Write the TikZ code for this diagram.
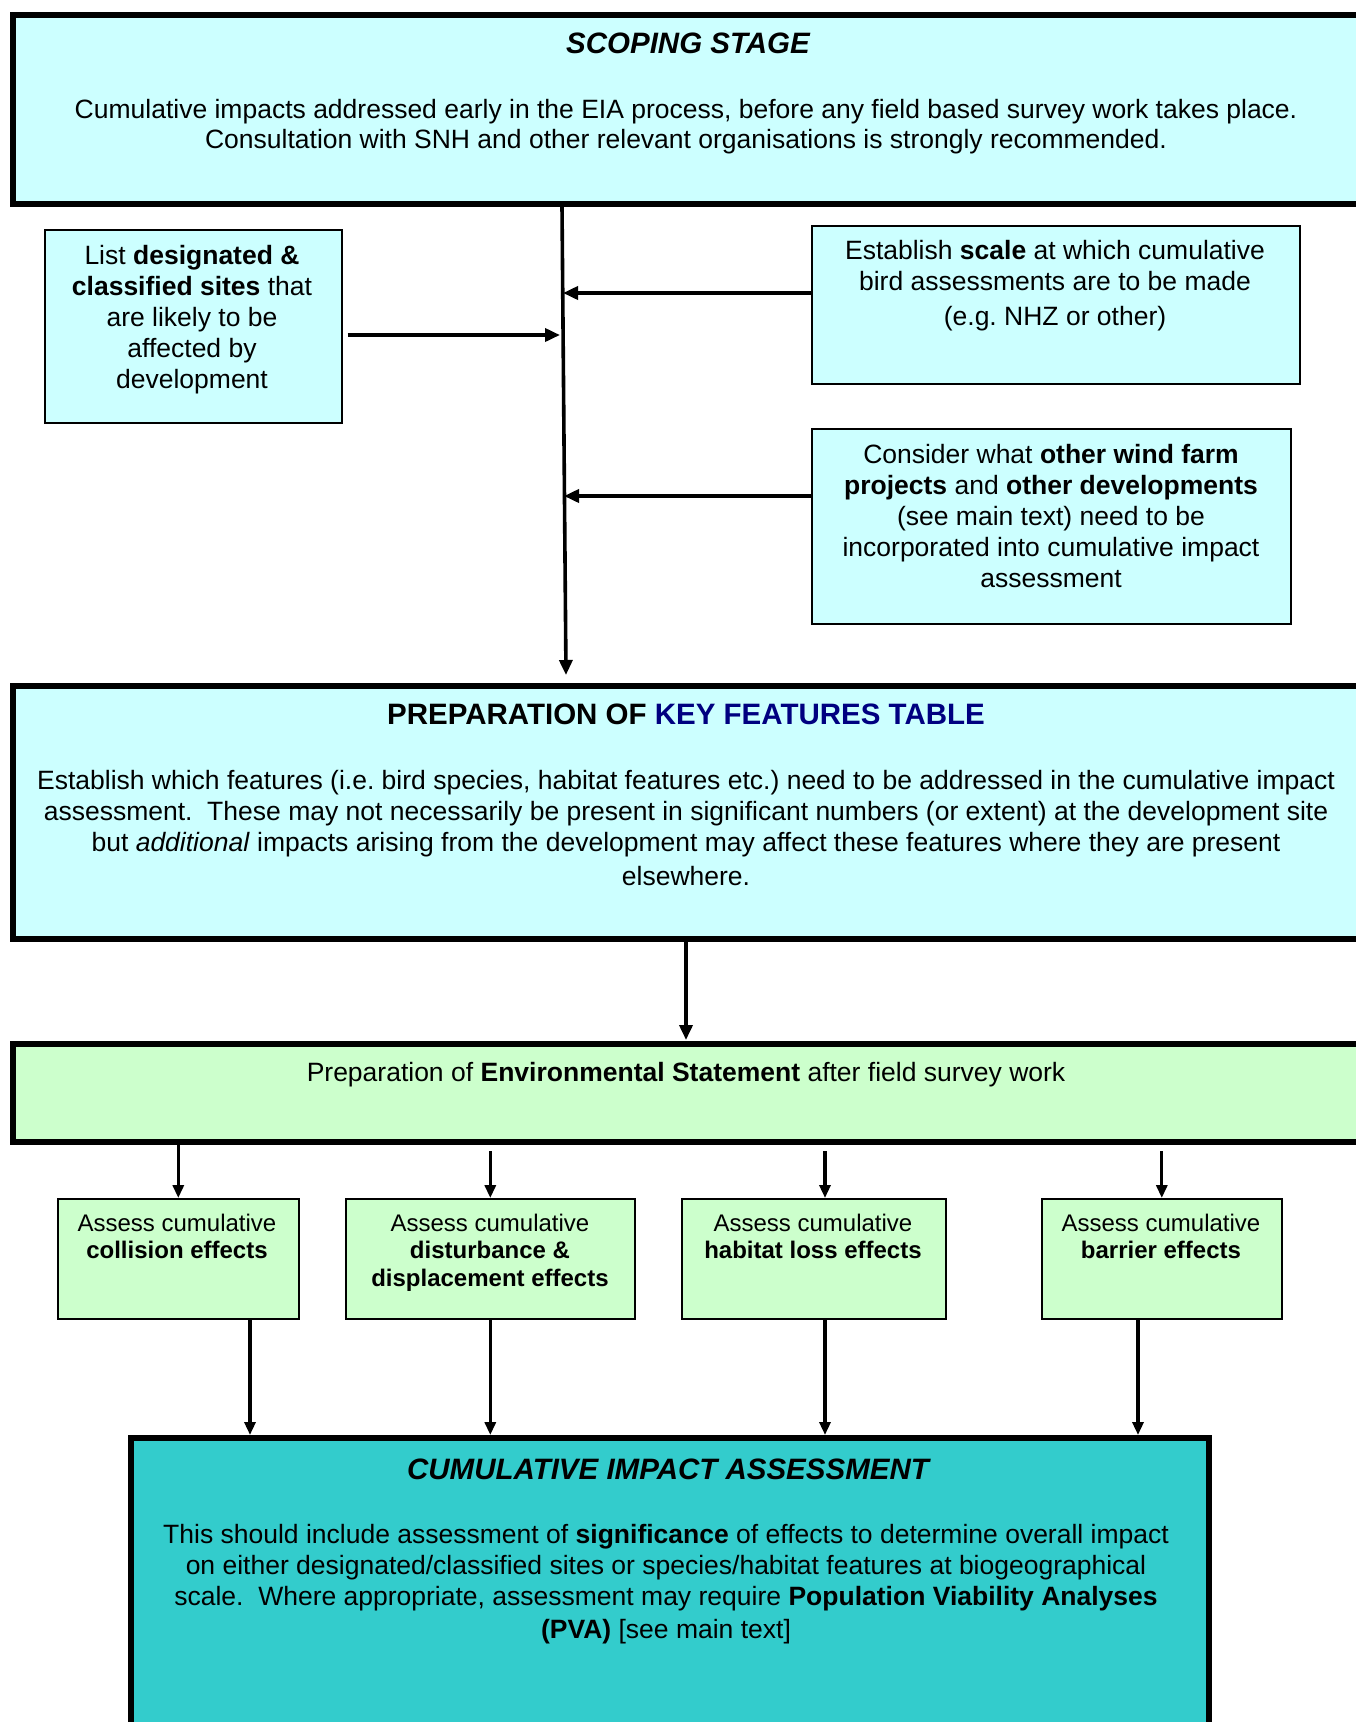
\documentclass[tikz,border=0pt]{standalone}
\usepackage{fontspec}
\setmainfont{Liberation Sans}
\usetikzlibrary{arrows.meta,calc}
\definecolor{lcyan}{HTML}{CCFFFF}
\definecolor{lgreen}{HTML}{CCFFCC}
\definecolor{tealbox}{HTML}{33CCCC}
\definecolor{navyb}{HTML}{000080}
\frenchspacing
\begin{document}
\begin{tikzpicture}[x=1pt,y=-1pt,
  bigbox/.style={draw, line width=5.5pt, inner sep=0pt, anchor=north west},
  smallbox/.style={draw, line width=1.6pt, inner sep=0pt, anchor=north west},
  txt/.style={inner sep=0pt, align=center, font=\fontsize{26.5}{30}\selectfont},
  txtb/.style={inner sep=0pt, align=center, font=\fontsize{26.5}{31}\selectfont},
  ttl/.style={inner sep=0pt, align=center, font=\fontsize{29.5}{33}\selectfont\bfseries},
  txts/.style={inner sep=0pt, align=center, font=\fontsize{24}{27.5}\selectfont},
  arr/.style={line width=3.6pt, -{Triangle[length=15pt,width=13pt]}},
  arrs/.style={line width=3.2pt, -{Triangle[length=13pt,width=11pt]}}]
\useasboundingbox (0,0) rectangle (1356,1722);
\clip (0,0) rectangle (1356,1722);
\fill[white] (0,0) rectangle (1356,1722);

% boxes
\node[bigbox, fill=lcyan, minimum width=1356pt, minimum height=189pt] (scope) at (10,12) {};
\node[smallbox, fill=lcyan, minimum width=297pt, minimum height=193pt] (list) at (44,229) {};
\node[smallbox, fill=lcyan, minimum width=488pt, minimum height=158pt] (scale) at (811,225) {};
\node[smallbox, fill=lcyan, minimum width=479pt, minimum height=195pt] (other) at (811,428) {};
\node[bigbox, fill=lcyan, minimum width=1356pt, minimum height=253pt] (key) at (10,683) {};
\node[bigbox, fill=lgreen, minimum width=1356pt, minimum height=98pt] (es) at (10,1041) {};
\node[smallbox, fill=lgreen, minimum width=241pt, minimum height=120pt] (b1) at (57,1198) {};
\node[smallbox, fill=lgreen, minimum width=289pt, minimum height=120pt] (b2) at (345,1198) {};
\node[smallbox, fill=lgreen, minimum width=264pt, minimum height=120pt] (b3) at (681,1198) {};
\node[smallbox, fill=lgreen, minimum width=240pt, minimum height=120pt] (b4) at (1041,1198) {};
\node[bigbox, fill=tealbox, minimum width=1078pt, minimum height=330pt] (cia) at (128,1435) {};

% texts
\node[ttl, anchor=base, font=\fontsize{29.5}{33}\selectfont\bfseries\itshape] (scopeT) at (688,53) {SCOPING STAGE};
\node[txt, anchor=north] (scopeB) at (686,97) {\strut Cumulative impacts addressed early in the EIA process, before any field based survey work takes place.\\Consultation with SNH and other relevant organisations is strongly recommended.};
\node[txtb, anchor=north] (listT) at (192,243) {\strut List \textbf{designated \&}\\\textbf{classified sites} that\\are likely to be\\affected by\\development};
\node[txtb, anchor=north] (scaleT) at (1055,238) {\strut Establish \textbf{scale} at which cumulative\\bird assessments are to be made\\[4pt](e.g. NHZ or other)};
\node[txtb, anchor=north] (otherT) at (1051,442) {\strut Consider what \textbf{other wind farm}\\\textbf{projects} and \textbf{other developments}\\(see main text) need to be\\incorporated into cumulative impact\\assessment};
\node[ttl, anchor=base] (keyT) at (686,724) {PREPARATION OF \textcolor{navyb}{KEY FEATURES TABLE}};
\node[txtb, anchor=north] (keyB) at (686,768) {\strut Establish which features (i.e. bird species, habitat features etc.) need to be addressed in the cumulative impact\\assessment.\ \ These may not necessarily be present in significant numbers (or extent) at the development site\\but \textit{additional} impacts arising from the development may affect these features where they are present\\[3pt]elsewhere.};
\node[txt, anchor=base] (esT) at (686,1081) {Preparation of \textbf{Environmental Statement} after field survey work};
\node[txts, anchor=north] (b1T) at (177,1212) {\strut Assess cumulative\\\textbf{collision effects}};
\node[txts, anchor=north] (b2T) at (490,1212) {\strut Assess cumulative\\\textbf{disturbance \&}\\\textbf{displacement effects}};
\node[txts, anchor=north] (b3T) at (813,1212) {\strut Assess cumulative\\\textbf{habitat loss effects}};
\node[txts, anchor=north] (b4T) at (1161,1212) {\strut Assess cumulative\\\textbf{barrier effects}};
\node[ttl, anchor=base, font=\fontsize{29.5}{33}\selectfont\bfseries\itshape] (ciaT) at (668,1479) {CUMULATIVE IMPACT ASSESSMENT};
\node[txtb, anchor=north] (ciaB) at (666,1522) {\strut This should include assessment of \textbf{significance} of effects to determine overall impact\\on either designated/classified sites or species/habitat features at biogeographical\\scale.\ \ Where appropriate, assessment may require \textbf{Population Viability Analyses}\\[2pt]\textbf{(PVA)} [see main text]};

% connectors
\coordinate (mtop) at (562,0);
\coordinate (mbot) at (566,0);
\coordinate (jL) at (560,335);
\coordinate (jR1) at (563,293);
\coordinate (jR2) at (564,496);
\coordinate (kx) at (686,0);
\draw[arr] (scope.south -| mtop) -- ($(mbot |- key.north)+(0,-8)$);
\draw[arr] (list.east |- jL) ++(5,0) -- (jL);
\draw[arr] (scale.west |- jR1) -- (jR1);
\draw[arr] (other.west |- jR2) -- (jR2);
\draw[arr] (key.south -| kx) -- ($(es.north -| kx)+(0,-1)$);
\draw[arrs] (es.south -| b1.north) -- (b1.north);
\draw[arrs] ($(b2.north)+(0,-47)$) -- (b2.north);
\coordinate (u3) at (825,0);
\draw[arrs] ($(b3.north -| u3)+(0,-47)$) -- (b3.north -| u3);
\draw[arrs] ($(b4.north)+(0,-47)$) -- (b4.north);
\coordinate (d1) at (250,0);
\coordinate (d4) at (1138,0);
\draw[arrs] (b1.south -| d1) -- (cia.north -| d1);
\draw[arrs] (b2.south) -- (cia.north -| b2.south);
\draw[arrs] (b3.south -| u3) -- (cia.north -| u3);
\draw[arrs] (b4.south -| d4) -- (cia.north -| d4);
\end{tikzpicture}
\end{document}
